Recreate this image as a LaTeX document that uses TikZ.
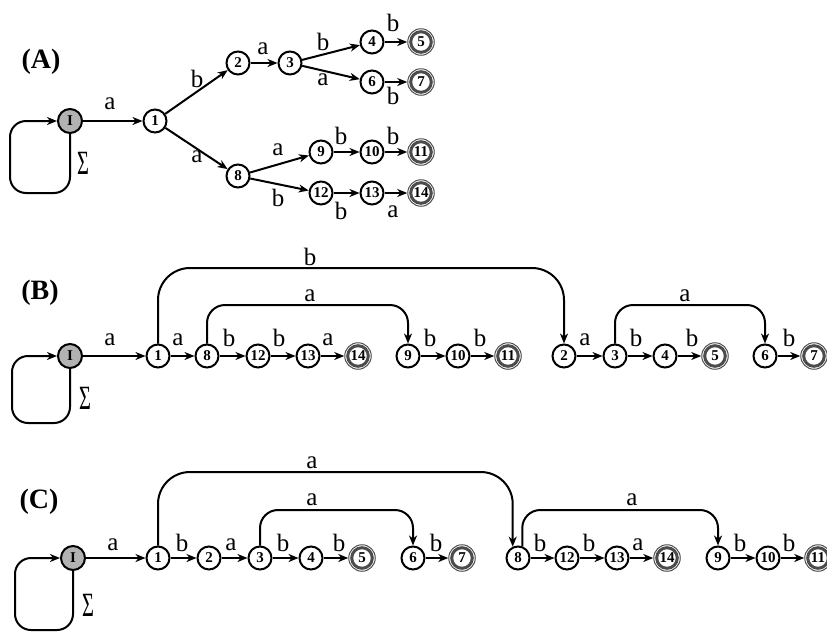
\documentclass[tikz,border=0pt]{standalone}
\usepackage{fontspec}
\setmainfont{Liberation Serif}
\usepackage{graphicx}
\usetikzlibrary{arrows.meta}
\begin{document}
\begin{tikzpicture}[x=1pt,y=-1pt,
  st/.style={circle, draw, line width=2pt, fill=white, minimum size=23pt, inner sep=0pt, font=\fontsize{15}{15}\selectfont\bfseries},
  acc/.style={circle, draw=black!70, line width=1pt, fill=white, minimum size=26.5pt, inner sep=0pt, font=\fontsize{15}{15}\selectfont\bfseries,
    path picture={\draw[line width=3pt] (path picture bounding box.center) circle (10.3pt);}},
  ini/.style={st, fill=black!30, minimum size=24pt},
  arr/.style={line width=2pt, -{Stealth[length=10pt,width=8pt,inset=3pt]}},
  lbl/.style={inner sep=0pt, font=\fontsize{25}{25}\selectfont},
  ttl/.style={inner sep=0pt, font=\fontsize{28}{28}\selectfont\bfseries},
  sig/.style={inner sep=0pt, font=\fontsize{34}{34}\selectfont},
]
\useasboundingbox (0,0) rectangle (827,635);

%% ---------- (A) ----------
\node[ttl] (tA) at (41,62) {(A)};
\node[ini] (aI) at (70,121) {I};
\node[st] (a1) at (155,121) {1};
\node[st] (a2) at (238,63) {2};
\node[st] (a3) at (290,63) {3};
\node[st] (a4) at (372,42) {4};
\node[acc] (a5) at (421,42) {5};
\node[st] (a6) at (372,82) {6};
\node[acc] (a7) at (421,82) {7};
\node[st] (a8) at (238,176) {8};
\node[st] (a9) at (321,152) {9};
\node[st] (a10) at (372,152) {10};
\node[acc] (a11) at (421,152) {11};
\node[st] (a12) at (321,193) {12};
\node[st] (a13) at (372,193) {13};
\node[acc] (a14) at (421,193) {14};

\draw[arr, rounded corners=16pt] (aI.south) -- (aI.south |- 0,193) -- (10,193) -- (10,121) -- (aI.west);
\node[sig] (sA) at (83,163) {\scalebox{0.6}[1]{Σ}};
\draw[arr] (aI) -- (a1);
\draw[arr] (a1) -- (a2);
\draw[arr] (a1) -- (a8);
\draw[arr] (a2) -- (a3);
\draw[arr] (a3) -- (a4);
\draw[arr] (a3) -- (a6);
\draw[arr] (a4) -- (a5);
\draw[arr] (a6) -- (a7);
\draw[arr] (a8) -- (a9);
\draw[arr] (a8) -- (a12);
\draw[arr] (a9) -- (a10);
\draw[arr] (a10) -- (a11);
\draw[arr] (a12) -- (a13);
\draw[arr] (a13) -- (a14);

\node[lbl] (la1) at (110,104) {a};
\node[lbl] (la2) at (197,79) {b};
\node[lbl] (la3) at (197,157) {a};
\node[lbl] (la4) at (263,49) {a};
\node[lbl] (la5) at (323,42) {b};
\node[lbl] (la6) at (323,80) {a};
\node[lbl] (la7) at (393,23) {b};
\node[lbl] (la8) at (393,96) {b};
\node[lbl] (la9) at (278,150) {a};
\node[lbl] (la10) at (278,198) {b};
\node[lbl] (la11) at (341,136) {b};
\node[lbl] (la12) at (393,136) {b};
\node[lbl] (la13) at (341,211) {b};
\node[lbl] (la14) at (393,212) {a};

%% ---------- (B) ----------
\node[ttl] (tB) at (40,293) {(B)};
\node[ini] (bI) at (70,356) {I};
\node[st] (b1) at (158,356) {1};
\node[st] (b8) at (207,356) {8};
\node[st] (b12) at (258,356) {12};
\node[st] (b13) at (308,356) {13};
\node[acc] (b14) at (358,356) {14};
\node[st] (b9) at (408,356) {9};
\node[st] (b10) at (458,356) {10};
\node[acc] (b11) at (508,356) {11};
\node[st] (b2) at (564,356) {2};
\node[st] (b3) at (615,356) {3};
\node[st] (b4) at (665,356) {4};
\node[acc] (b5) at (715,356) {5};
\node[st] (b6) at (765,356) {6};
\node[acc] (b7) at (814,356) {7};

\draw[arr, rounded corners=16pt] (bI.south) -- (bI.south |- 0,423) -- (12,423) -- (12,356) -- (bI.west);
\node[sig] (sB) at (85,398) {\scalebox{0.6}[1]{Σ}};
\draw[arr] (bI) -- (b1);
\draw[arr] (b1) -- (b8);
\draw[arr] (b8) -- (b12);
\draw[arr] (b12) -- (b13);
\draw[arr] (b13) -- (b14);
\draw[arr] (b9) -- (b10);
\draw[arr] (b10) -- (b11);
\draw[arr] (b2) -- (b3);
\draw[arr] (b3) -- (b4);
\draw[arr] (b4) -- (b5);
\draw[arr] (b6) -- (b7);
\draw[arr, rounded corners=32pt] (b1.north) -- (b1.north |- 0,268) -- (b2.north |- 0,268) -- (b2.north);
\draw[arr, rounded corners=18pt] (b8.north) -- (b8.north |- 0,305) -- (b9.north |- 0,305) -- (b9.north);
\draw[arr, rounded corners=18pt] (b3.north) -- (b3.north |- 0,305) -- (b6.north |- 0,305) -- (b6.north);

\node[lbl] (lb0) at (310,257) {b};
\node[lbl] (lb00) at (310,296) {a};
\node[lbl] (lb000) at (685,296) {a};
\node[lbl] (lb1) at (110,340) {a};
\node[lbl] (lb2) at (178,340) {a};
\node[lbl] (lb3) at (229,338) {b};
\node[lbl] (lb4) at (279,338) {b};
\node[lbl] (lb5) at (328,340) {a};
\node[lbl] (lb6) at (430,338) {b};
\node[lbl] (lb7) at (480,338) {b};
\node[lbl] (lb8) at (585,340) {a};
\node[lbl] (lb9) at (636,338) {b};
\node[lbl] (lb10) at (692,338) {b};
\node[lbl] (lb11) at (789,338) {b};

%% ---------- (C) ----------
\node[ttl] (tC) at (39,502) {(C)};
\node[ini] (cI) at (73,558) {I};
\node[st] (c1) at (158,558) {1};
\node[st] (c2) at (209,558) {2};
\node[st] (c3) at (260,558) {3};
\node[st] (c4) at (311,558) {4};
\node[acc] (c5) at (362,558) {5};
\node[st] (c6) at (413,558) {6};
\node[acc] (c7) at (462,558) {7};
\node[st] (c8) at (518,558) {8};
\node[st] (c12) at (567,558) {12};
\node[st] (c13) at (617,558) {13};
\node[acc] (c14) at (667,558) {14};
\node[st] (c9) at (718,558) {9};
\node[st] (c10) at (768,558) {10};
\node[acc] (c11) at (818,558) {11};

\draw[arr, rounded corners=16pt] (cI.south) -- (cI.south |- 0,630) -- (15,630) -- (15,558) -- (cI.west);
\node[sig] (sC) at (88,605) {\scalebox{0.6}[1]{Σ}};
\draw[arr] (cI) -- (c1);
\draw[arr] (c1) -- (c2);
\draw[arr] (c2) -- (c3);
\draw[arr] (c3) -- (c4);
\draw[arr] (c4) -- (c5);
\draw[arr] (c6) -- (c7);
\draw[arr] (c8) -- (c12);
\draw[arr] (c12) -- (c13);
\draw[arr] (c13) -- (c14);
\draw[arr] (c9) -- (c10);
\draw[arr] (c10) -- (c11);
\draw[arr, rounded corners=32pt] (c1.north) -- (c1.north |- 0,472) -- (c8.115 |- 0,472) -- (c8.115);
\draw[arr, rounded corners=18pt] (c3.north) -- (c3.north |- 0,510) -- (c6.north |- 0,510) -- (c6.north);
\draw[arr, rounded corners=18pt] (c8.70) -- (c8.70 |- 0,510) -- (c9.north |- 0,510) -- (c9.north);

\node[lbl] (lc0) at (312,463) {a};
\node[lbl] (lc00) at (312,500) {a};
\node[lbl] (lc000) at (632,500) {a};
\node[lbl] (lc1) at (113,545) {a};
\node[lbl] (lc2) at (182,543) {b};
\node[lbl] (lc3) at (231,545) {a};
\node[lbl] (lc4) at (283,543) {b};
\node[lbl] (lc5) at (339,543) {b};
\node[lbl] (lc6) at (436,543) {b};
\node[lbl] (lc7) at (540,543) {b};
\node[lbl] (lc8) at (589,543) {b};
\node[lbl] (lc9) at (638,545) {a};
\node[lbl] (lc10) at (740,543) {b};
\node[lbl] (lc11) at (789,543) {b};
\end{tikzpicture}
\end{document}
